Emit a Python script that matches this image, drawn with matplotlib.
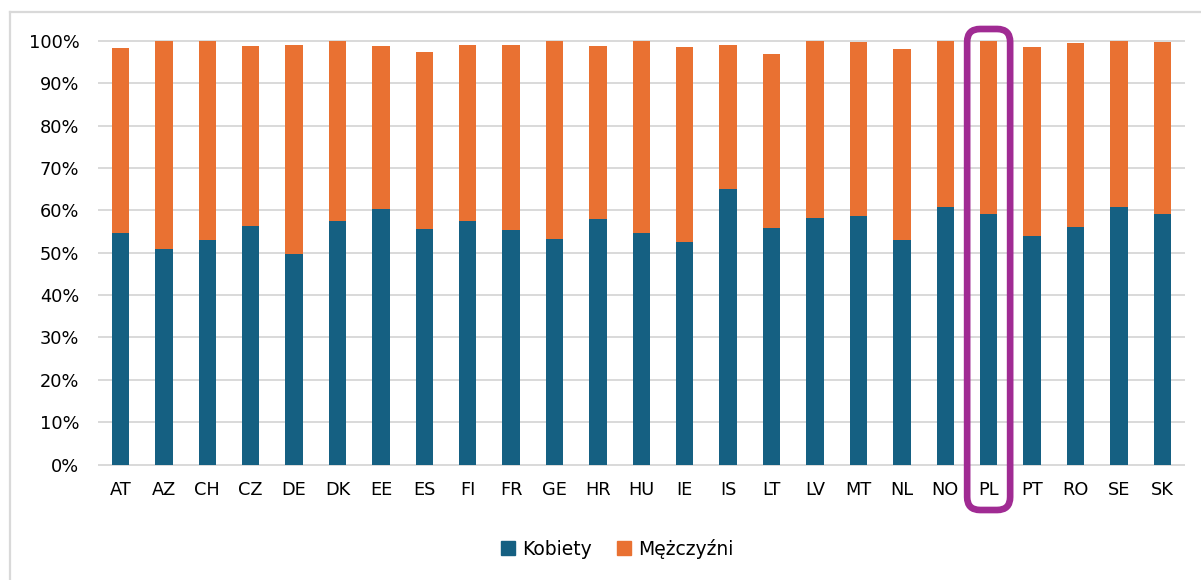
import matplotlib.pyplot as plt
from matplotlib.patches import FancyBboxPatch
from matplotlib.ticker import PercentFormatter
from matplotlib.lines import Line2D
import numpy as np

# kraje i udziały
kraje = ['AT', 'AZ', 'CH', 'CZ', 'DE', 'DK', 'EE', 'ES', 'FI', 'FR', 'GE', 'HR', 'HU',
         'IE', 'IS', 'LT', 'LV', 'MT', 'NL', 'NO', 'PL', 'PT', 'RO', 'SE', 'SK']
kobiety = [54.7, 50.8, 52.9, 56.2, 49.7, 57.6, 60.3, 55.5, 57.4, 55.3, 53.3, 57.9, 54.6,
           52.6, 65.0, 55.9, 58.2, 58.7, 53.1, 60.9, 59.1, 53.9, 56.0, 60.9, 59.2]
razem = [98.4, 100.0, 100.0, 98.9, 99.1, 100.0, 98.8, 97.4, 99.05, 99.1, 100.0, 98.9, 100.0,
         98.5, 99.05, 96.9, 100.0, 99.75, 98.1, 100.0, 100.0, 98.5, 99.45, 100.0, 99.7]
mezczyzni = [round(r - k, 2) for r, k in zip(razem, kobiety)]
wyrozniony = 'PL'

blue = '#156082'
orange = '#E97132'
purple = '#A02B93'
grid_col = '#D9D9D9'

W, H = 1201, 580
fig = plt.figure(figsize=(W / 100, H / 100), dpi=100)
plt.rcParams['font.family'] = ['DejaVu Sans']

# obszar wykresu w pikselach
left, right, top, bottom = 98.7, 1184, 41, 464.5
ax = fig.add_axes([left / W, 1 - bottom / H, (right - left) / W, (bottom - top) / H])

x = np.arange(len(kraje))
k = np.array(kobiety) / 100
m = np.array(mezczyzni) / 100
ax.bar(x, k, width=0.4, color=blue, zorder=3)
ax.bar(x, m, width=0.4, bottom=k, color=orange, zorder=3)

ax.set_xlim(-0.5, len(kraje) - 0.5)
ax.set_ylim(0, 1.0)
ax.set_yticks(np.arange(0, 1.01, 0.1))
ax.yaxis.set_major_formatter(PercentFormatter(1.0, decimals=0))
ax.set_xticks(x)
ax.set_xticklabels(kraje)
for s in ax.spines.values():
    s.set_visible(False)
ax.tick_params(axis='both', length=0, labelsize=12.8, colors='#000000')
ax.tick_params(axis='y', pad=14)
ax.tick_params(axis='x', pad=12)
for yv in np.arange(0, 1.01, 0.1):
    ax.axhline(yv, color=grid_col, lw=1.4, zorder=1, clip_on=False)

# ramka wokół PL
i = kraje.index(wyrozniony)
px_x = (right - left) / len(kraje)
px_y = (bottom - top) / 1.0
r = 13
x0 = i - 21.5 / px_x
x1 = i + 21.5 / px_x
y0 = -(510 - bottom) / px_y
y1 = (bottom - 29) / px_y
box = FancyBboxPatch((x0, y0), x1 - x0, y1 - y0,
                     boxstyle=f'round,pad=0,rounding_size={r / px_x}',
                     mutation_aspect=px_x / px_y,
                     fill=False, ec=purple, lw=4.8, clip_on=False, zorder=5)
ax.add_patch(box)

# legenda
handles = [Line2D([], [], marker='s', ls='', color=blue, markersize=10.5),
           Line2D([], [], marker='s', ls='', color=orange, markersize=10.5)]
fig.legend(handles, ['Kobiety', 'Mężczyźni'], loc='center', ncol=2,
           bbox_to_anchor=(616 / W, 1 - 549 / H), frameon=False, fontsize=13.5,
           handletextpad=0.25, columnspacing=1.2, handlelength=1.0)

# obramowanie wykresu (góra i lewa)
fig.add_artist(Line2D([10 / W, 1], [1 - 12 / H, 1 - 12 / H], color=grid_col, lw=1.6))
fig.add_artist(Line2D([10 / W, 10 / W], [0, 1 - 12 / H], color=grid_col, lw=1.6))

plt.savefig('out.png', dpi=100)
